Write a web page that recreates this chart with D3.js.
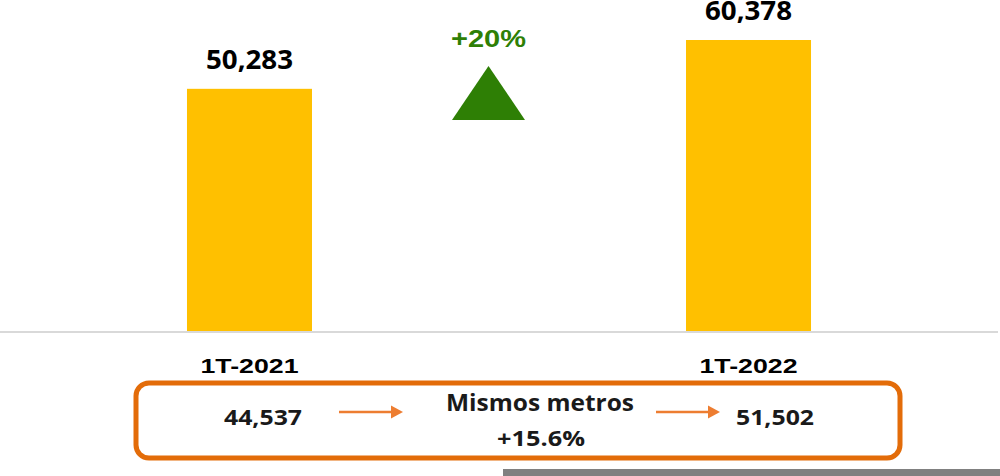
<!DOCTYPE html>
<html>
<head>
<meta charset="utf-8">
<script src="https://cdn.jsdelivr.net/npm/d3@7"></script>
<style>
  body { margin: 0; background: #fff; }
  svg { display: block; }
</style>
</head>
<body>
<svg id="chart"></svg>
<script>
const categories = ["1T-2021", "1T-2022"];
const sales = [50283, 60378];
const sameStore = [44537, 51502];
const sameStoreLabel = "Mismos metros";
const sameStoreGrowth = "+15.6%";
const totalGrowth = "+20%";

const width = 1000, height = 476;
const svg = d3.select("#chart").attr("width", width).attr("height", height);

const baseY = 332;

const x = d3.scaleBand()
    .domain(categories)
    .range([0, 998])
    .paddingInner(0.7495)
    .paddingOuter(0.3747);

const y = d3.scaleLinear()
    .domain([0, d3.max(sales)])
    .range([baseY, 40]);

const fmt = d3.format(",");

// bars
svg.selectAll("rect.bar")
    .data(sales)
    .join("rect")
    .attr("class", "bar")
    .attr("x", (d, i) => x(categories[i]))
    .attr("y", d => y(d))
    .attr("width", x.bandwidth())
    .attr("height", d => y(0) - y(d))
    .attr("fill", "#FFC000");

// baseline
svg.append("line")
    .attr("x1", 0).attr("x2", 998)
    .attr("y1", baseY).attr("y2", baseY)
    .attr("stroke", "#d9d9d9")
    .attr("stroke-width", 2);

// value labels
svg.selectAll("text.val")
    .data(sales)
    .join("text")
    .attr("class", "val")
    .attr("x", (d, i) => x(categories[i]) + x.bandwidth() / 2)
    .attr("y", d => y(d) - 20)
    .attr("text-anchor", "middle")
    .attr("font-family", "'Open Sans', sans-serif")
    .attr("font-weight", "bold")
    .attr("font-size", 26)
    .attr("textLength", 87)
    .attr("lengthAdjust", "spacingAndGlyphs")
    .attr("fill", "#000")
    .text(d => fmt(d));

// category labels
svg.selectAll("text.cat")
    .data(categories)
    .join("text")
    .attr("class", "cat")
    .attr("x", d => x(d) + x.bandwidth() / 2)
    .attr("y", 373)
    .attr("text-anchor", "middle")
    .attr("font-family", "'Liberation Sans', Arial, sans-serif")
    .attr("font-weight", "bold")
    .attr("font-size", 21)
    .attr("textLength", 98)
    .attr("lengthAdjust", "spacingAndGlyphs")
    .attr("fill", "#000")
    .text(d => d);

// growth indicator
const midX = (x(categories[0]) + x(categories[1]) + x.bandwidth()) / 2 - 10.5;
svg.append("text")
    .attr("x", midX)
    .attr("y", 47)
    .attr("text-anchor", "middle")
    .attr("font-family", "'Liberation Sans', Arial, sans-serif")
    .attr("font-weight", "bold")
    .attr("font-size", 24)
    .attr("textLength", 75)
    .attr("lengthAdjust", "spacingAndGlyphs")
    .attr("fill", "#2E7F05")
    .text(totalGrowth);

svg.append("path")
    .attr("d", d3.line()([[midX, 66], [midX + 36.5, 120], [midX - 36.5, 120]]) + "Z")
    .attr("fill", "#2E7F05");

// same-store box
svg.append("rect")
    .attr("x", 136).attr("y", 383)
    .attr("width", 764).attr("height", 75)
    .attr("rx", 13)
    .attr("fill", "none")
    .attr("stroke", "#E36C09")
    .attr("stroke-width", 5);

const boxFont = "'Open Sans', sans-serif";
const boxPos = [263, 775];
svg.selectAll("text.ss")
    .data(sameStore)
    .join("text")
    .attr("class", "ss")
    .attr("x", (d, i) => boxPos[i])
    .attr("y", 425)
    .attr("text-anchor", "middle")
    .attr("font-family", boxFont)
    .attr("font-weight", "bold")
    .attr("font-size", 22)
    .attr("textLength", 78)
    .attr("lengthAdjust", "spacingAndGlyphs")
    .attr("fill", "#1a1a1a")
    .text(d => fmt(d));

svg.append("text")
    .attr("x", 540).attr("y", 411)
    .attr("text-anchor", "middle")
    .attr("font-family", boxFont)
    .attr("font-weight", "bold")
    .attr("font-size", 24)
    .attr("textLength", 188)
    .attr("lengthAdjust", "spacingAndGlyphs")
    .attr("fill", "#1a1a1a")
    .text(sameStoreLabel);

svg.append("text")
    .attr("x", 541).attr("y", 446)
    .attr("text-anchor", "middle")
    .attr("font-family", boxFont)
    .attr("font-weight", "bold")
    .attr("font-size", 22)
    .attr("textLength", 88)
    .attr("lengthAdjust", "spacingAndGlyphs")
    .attr("fill", "#1a1a1a")
    .text(sameStoreGrowth);

// arrows
const arrows = [[339, 403], [656, 720]];
arrows.forEach(([a, b]) => {
    svg.append("line")
        .attr("x1", a).attr("x2", b - 10)
        .attr("y1", 412).attr("y2", 412)
        .attr("stroke", "#ED7D31")
        .attr("stroke-width", 2.5);
    svg.append("path")
        .attr("d", d3.line()([[b, 412], [b - 12, 405.5], [b - 12, 418.5]]) + "Z")
        .attr("fill", "#ED7D31");
});

// gray strip at bottom
svg.append("rect")
    .attr("x", 503).attr("y", 469)
    .attr("width", 497).attr("height", 7)
    .attr("fill", "#808080");
</script>
</body>
</html>
